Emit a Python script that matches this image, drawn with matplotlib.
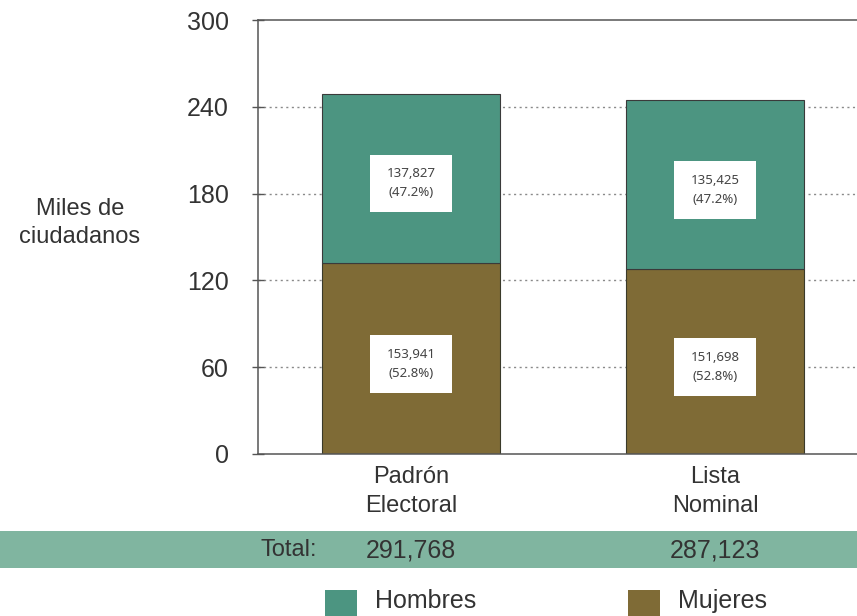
import matplotlib
matplotlib.use("Agg")
import matplotlib.pyplot as plt
from matplotlib.patches import Rectangle
from matplotlib.transforms import blended_transform_factory

# bar heights as drawn in the chart (miles)
categorias = ["Padrón\nElectoral", "Lista\nNominal"]
mujeres = [132, 128]
hombres = [117, 116.5]
etiq_mujeres = ["153,941\n(52.8%)", "151,698\n(52.8%)"]
etiq_hombres = ["137,827\n(47.2%)", "135,425\n(47.2%)"]
totales = ["291,768", "287,123"]
yticks = [0, 60, 120, 180, 240, 300]

c_hom = "#4c9581"
c_muj = "#7f6b36"
c_banda = "#80b5a0"
c_txt = "#333333"

plt.rcParams["font.family"] = ["Liberation Sans", "DejaVu Sans"]

fig = plt.figure(figsize=(8.57, 6.16), dpi=100)
ax = fig.add_axes([0.301, 0.263, 0.699, 0.7045])

x = list(range(len(categorias)))
w = 0.585
ax.bar(x, mujeres, width=w, color=c_muj, edgecolor="#3a3a2a", linewidth=0.8, zorder=2)
ax.bar(x, hombres, width=w, bottom=mujeres, color=c_hom, edgecolor="#3a3a3a", linewidth=0.8, zorder=2)

for i in x:
    for yc, t in [(mujeres[i] * 0.47, etiq_mujeres[i]),
                  (mujeres[i] + hombres[i] * 0.47, etiq_hombres[i])]:
        ax.add_patch(Rectangle((i - 0.136, yc - 20), 0.272, 40, facecolor="white",
                               edgecolor="none", zorder=3))
        ax.text(i, yc, t, ha="center", va="center", fontsize=9.5, color="#444444",
                family=["Noto Sans", "DejaVu Sans"], linespacing=1.6, zorder=4)

ax.set_xlim(-0.503, 1.467)
ax.set_ylim(0, 300)
ax.set_yticks(yticks)
ax.set_xticks(x)
ax.set_xticklabels(categorias, fontsize=17, color=c_txt, linespacing=1.4)
ax.tick_params(axis="y", direction="inout", length=8, width=1, color="#555555",
               labelsize=18, labelcolor=c_txt, pad=17)
ax.tick_params(axis="x", length=0, pad=9)
for yv in yticks[1:-1]:
    ax.axhline(yv, color="#8a8a8a", linestyle=(0, (1.5, 2.5)), linewidth=1, zorder=1)

ax.spines["right"].set_visible(False)
for s in ["left", "top", "bottom"]:
    ax.spines[s].set_color("#555555")
    ax.spines[s].set_linewidth(1.1)

fig.text(0.093, 0.638, "Miles de\nciudadanos", ha="center", va="center",
         fontsize=17, color=c_txt, linespacing=1.4)

# total band
fig.patches.append(Rectangle((0, 0.078), 1, 0.06, transform=fig.transFigure,
                             facecolor=c_banda, edgecolor="none", zorder=0))
tr = blended_transform_factory(ax.transData, fig.transFigure)
fig.text(-0.31, 0.107, "Total:", transform=tr, ha="right", va="center",
         fontsize=17, color=c_txt)
for i in x:
    fig.text(i, 0.107, totales[i], transform=tr, ha="center", va="center",
             fontsize=18, color=c_txt)

# legend
for xs, col, lab in [(-0.283, c_hom, "Hombres"), (0.714, c_muj, "Mujeres")]:
    fig.patches.append(Rectangle((xs, 0.0), 0.105, 0.042, transform=tr,
                                 facecolor=col, edgecolor="none"))
    fig.text(xs + 0.165, 0.024, lab, transform=tr, ha="left", va="center",
             fontsize=18, color=c_txt)

fig.savefig("out.png", dpi=100)
